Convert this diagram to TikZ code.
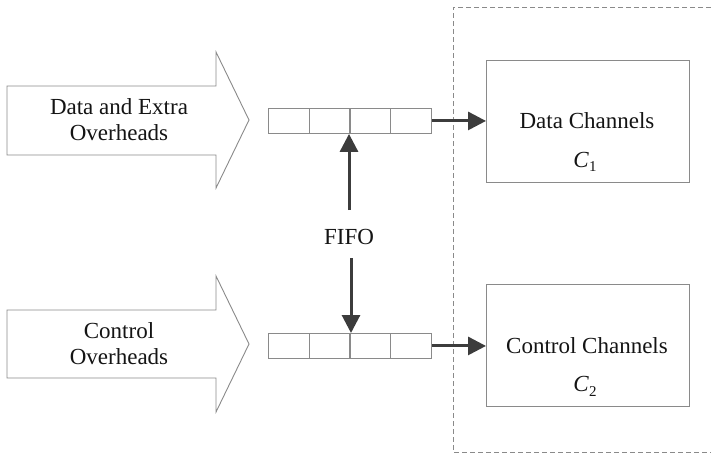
\documentclass[tikz,border=0pt]{standalone}
\usepackage{fontspec}
\setmainfont{Liberation Serif}
\usetikzlibrary{arrows.meta}

\definecolor{edgegray}{HTML}{8A8A8A}
\definecolor{arrowgray}{HTML}{3C3C3C}
\definecolor{inkblack}{HTML}{141414}

\tikzset{
  label/.style={font=\fontsize{23}{26}\selectfont, text=inkblack, align=center},
  cell/.style={draw=edgegray, line width=0.9pt, minimum width=40.7pt, minimum height=25pt,
    inner sep=0pt, anchor=north west},
  chanbox/.style={draw=edgegray, line width=0.9pt, minimum width=203pt, minimum height=122pt,
    inner sep=0pt, anchor=north west},
  bigarrow/.style={draw=edgegray, line width=0.9pt, fill=white},
  flow/.style={draw=arrowgray, line width=3pt, -{Triangle[length=18pt,width=18pt]}},
  region/.style={draw=edgegray, line width=0.9pt, dash pattern=on 5pt off 3pt},
}
\newcommand{\subvar}[2]{\textit{#1}\raisebox{-0.45ex}{\fontsize{15}{17}\selectfont #2}}

\begin{document}
\begin{tikzpicture}[x=1pt, y=-1pt]
  \useasboundingbox (0,0) rectangle (711,456);

  % dashed region holding the channels
  \draw[region] (711,7) -- (453,7) -- (453,452) -- (711,452);

  % input block arrows
  \draw[bigarrow] (7,86) -- (216,86) -- (216,52) -- (249,120) -- (216,188)
    -- (216,155) -- (7,155) -- cycle;
  \node[label] (dataIn) at (119,120) {Data and Extra\\Overheads};

  \draw[bigarrow] (7,310) -- (216,310) -- (216,276) -- (249,344) -- (216,412)
    -- (216,378) -- (7,378) -- cycle;
  \node[label] (ctrlIn) at (119,344) {Control\\Overheads};

  % FIFO queues
  \foreach \i in {0,1,2,3} {
    \node[cell] (qa\i) at ({268+40.75*\i},108) {};
    \node[cell] (qb\i) at ({268+40.75*\i},333) {};
  }

  % channel boxes
  \node[chanbox] (dataCh) at (486,60) {};
  \node[label] at (587,121) {Data Channels};
  \node[label] at (585,162) {\subvar{C}{1}};

  \node[chanbox] (ctrlCh) at (486,284) {};
  \node[label] at (587,346) {Control Channels};
  \node[label] at (585,386) {\subvar{C}{2}};

  % FIFO label and pointers
  \node[label] (fifo) at (349,237) {FIFO};
  \coordinate (upTail) at (349,210);
  \coordinate (downTail) at (351,258);
  \draw[flow] (upTail) -- (upTail |- qa1.south);
  \draw[flow] (downTail) -- (downTail |- qb2.north);

  % queues feeding the channels
  \draw[flow] (qa3.east) -- (dataCh.west |- qa3.east);
  \draw[flow] (qb3.east) -- (ctrlCh.west |- qb3.east);
\end{tikzpicture}
\end{document}
